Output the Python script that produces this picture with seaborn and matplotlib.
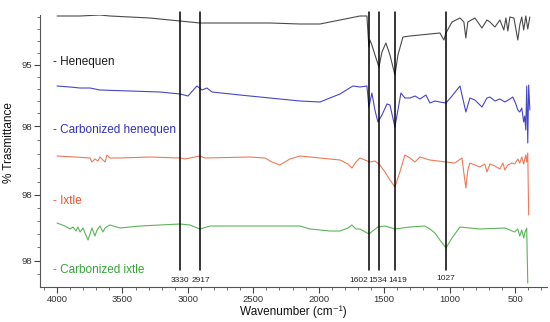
"""
FTIR spectra of henequen / ixtle fibres, raw and carbonized (stacked, offset).
"""
import numpy as np
import pandas as pd
import matplotlib
matplotlib.use("Agg")
import matplotlib.pyplot as plt
from matplotlib.ticker import MultipleLocator, FixedLocator
import seaborn as sns

# ---- data (wavenumber, offset transmittance) ----
henequen_wn = [4000, 3824, 3672, 3595, 3290, 2908, 2526, 2373, 2144, 1991, 1838, 1685,
               1632, 1617, 1609, 1594, 1563, 1540, 1517, 1487, 1456, 1418, 1395, 1357,
               1303, 1227, 1074, 1044, 1028, 982, 921, 891, 876, 861, 807, 753, 715,
               692, 654, 616, 586, 570, 555, 540, 509, 479, 464, 449, 434, 418, 403, 387]
henequen_t = [271, 271, 272, 271, 269, 264, 264, 264, 263, 263, 267, 271,
              271, 240, 247, 242, 229, 220, 235, 244, 232, 212, 232, 250,
              251, 252, 254, 247, 254, 265, 269, 265, 249, 265, 269, 259, 267,
              265, 260, 267, 257, 269, 256, 270, 269, 247, 262, 270, 257, 271, 258, 270]

carb_hen_wn = [4000, 3901, 3824, 3748, 3672, 3442, 3213, 3060, 2999, 2931, 2892, 2854,
               2816, 2602, 2373, 2144, 1991, 1838, 1739, 1685, 1632, 1617, 1594, 1571,
               1548, 1517, 1479, 1456, 1418, 1372, 1342, 1303, 1265, 1227, 1181, 1151,
               1112, 1074, 1028, 982, 921, 876, 845, 807, 753, 715, 692, 654, 616, 578,
               540, 517, 494, 479, 464, 449, 434, 426, 418, 411, 403, 396, 387]
carb_hen_t = [201, 200, 199, 199, 197, 196, 195, 193, 191, 201, 197, 199,
              195, 192, 189, 186, 185, 193, 201, 200, 201, 180, 194, 177,
              165, 172, 183, 182, 160, 194, 189, 189, 191, 188, 192, 184,
              186, 185, 184, 191, 201, 175, 189, 187, 180, 189, 190, 186, 188, 185,
              188, 190, 183, 177, 175, 179, 165, 171, 157, 201, 144, 202, 177]

ixtle_wn = [4000, 3862, 3748, 3733, 3710, 3687, 3672, 3649, 3633, 3618, 3595, 3519,
            3290, 3060, 3022, 2946, 2908, 2869, 2526, 2411, 2358, 2297, 2220, 2144,
            1991, 1838, 1777, 1747, 1716, 1685, 1609, 1571, 1533, 1494, 1456, 1418,
            1380, 1342, 1303, 1265, 1227, 1151, 1028, 960, 906, 876, 861, 845, 807,
            769, 731, 715, 692, 654, 616, 593, 578, 555, 525, 502, 479, 464, 449,
            434, 418, 411, 403, 396]
ixtle_t = [131, 130, 129, 125, 128, 126, 130, 127, 125, 132, 129, 129,
           130, 129, 128, 130, 131, 129, 130, 129, 125, 122, 128, 131,
           129, 127, 123, 119, 125, 129, 125, 126, 122, 115, 107, 100,
           115, 132, 129, 125, 130, 127, 125, 124, 129, 99, 117, 124, 122,
           120, 123, 115, 123, 121, 118, 124, 117, 122, 124, 123, 128, 124, 130,
           123, 132, 125, 134, 72]

carb_ixt_wn = [4000, 3939, 3901, 3878, 3855, 3840, 3824, 3801, 3786, 3763, 3748, 3733,
               3710, 3694, 3672, 3649, 3633, 3610, 3595, 3519, 3366, 3213, 3060, 2984,
               2946, 2908, 2831, 2526, 2144, 2067, 1915, 1838, 1777, 1747, 1716, 1685,
               1617, 1548, 1494, 1418, 1303, 1189, 1151, 1112, 1074, 1028, 982, 921,
               769, 578, 540, 502, 479, 464, 449, 434, 426, 411, 403]
carb_ixt_t = [64, 61, 58, 60, 56, 60, 55, 59, 54, 47, 53, 59,
              51, 57, 61, 55, 59, 61, 62, 59, 61, 62, 63, 62,
              60, 58, 61, 61, 61, 58, 56, 56, 59, 62, 58, 58,
              53, 60, 61, 58, 60, 61, 58, 54, 47, 39, 49, 60,
              58, 59, 57, 55, 58, 51, 57, 49, 54, 59, 4]

sample_names = ["Henequen", "Carbonized henequen", "Ixtle", "Carbonized ixtle"]
line_colors = ["#4a4a4a", "#4646c8", "#ee7a5a", "#5cb45c"]
text_colors = ["#1a1a1a", "#2f2fc0", "#e4572e", "#36a336"]
label_levels = [225, 157, 86, 17]

# vertical marker lines: where they are drawn, the printed label and where it sits
peak_pos = [3060, 2908, 1617, 1540, 1418, 1028]
peak_labels = ["3330", "2917", "1602", "1534", "1419", "1027"]
peak_label_x = [3060, 2900, 1693, 1548, 1400, 1028]
peak_label_y = [6, 6, 6, 7, 7, 9]

# y ticks of the offset axis (labels as printed on the original)
ytick_pos = [222, 161, 92, 26]
ytick_labels = ["95", "98", "98", "98"]
ytick_minor = [270, 258, 246, 234, 210, 198, 186, 174, 147, 133, 119, 105,
               79, 66, 53, 40, 13]

frames = []
for name, wn, t in zip(sample_names,
                       [henequen_wn, carb_hen_wn, ixtle_wn, carb_ixt_wn],
                       [henequen_t, carb_hen_t, ixtle_t, carb_ixt_t]):
    frames.append(pd.DataFrame({"wavenumber": wn, "T": t, "sample": name}))
df = pd.concat(frames, ignore_index=True)

sns.set_style("ticks")
plt.rcParams["font.family"] = ["Liberation Sans", "DejaVu Sans"]

fig = plt.figure(figsize=(5.5, 3.22), dpi=100)
ax = fig.add_axes([40 / 550, 35 / 322, 507 / 550, 272 / 322])

sns.lineplot(data=df, x="wavenumber", y="T", hue="sample", hue_order=sample_names,
             palette=line_colors, sort=False, estimator=None, linewidth=0.8,
             legend=False, ax=ax)

for p in peak_pos:
    ax.plot([p, p], [17, 275], color="black", lw=1.1, clip_on=False, zorder=3)
for lab, lx, ly in zip(peak_labels, peak_label_x, peak_label_y):
    ax.text(lx, ly, lab, ha="center", va="center", fontsize=6, color="#222222")

for name, c, lv in zip(sample_names, text_colors, label_levels):
    ax.text(4031, lv, "- " + name, color=c, fontsize=8.5, ha="left", va="center")

ax.set_xlim(4130, 256)
ax.set_ylim(0, 272)
ax.xaxis.set_major_locator(FixedLocator([4000, 3500, 3000, 2500, 2000, 1500, 1000, 500]))
ax.xaxis.set_minor_locator(MultipleLocator(100))
ax.yaxis.set_major_locator(FixedLocator(ytick_pos))
ax.set_yticklabels(ytick_labels)
ax.yaxis.set_minor_locator(FixedLocator(ytick_minor))
ax.tick_params(axis="both", which="major", labelsize=6.8, length=4, width=0.8,
               colors="#444444", labelcolor="#333333", pad=2)
ax.tick_params(axis="both", which="minor", length=2, width=0.6, colors="#555555")

ax.set_xlabel("Wavenumber (cm\u207b\u00b9)", fontsize=8.5, color="#111111",
              va="center")
ax.xaxis.set_label_coords(0.5, -0.092)
ax.set_ylabel("% Trasmittance", fontsize=8.5, color="#111111", va="center")
ax.yaxis.set_label_coords(-0.061, 0.53)

sns.despine(ax=ax)
for s in ["left", "bottom"]:
    ax.spines[s].set_color("#555555")
    ax.spines[s].set_linewidth(0.8)

fig.savefig("out.png", dpi=100)
